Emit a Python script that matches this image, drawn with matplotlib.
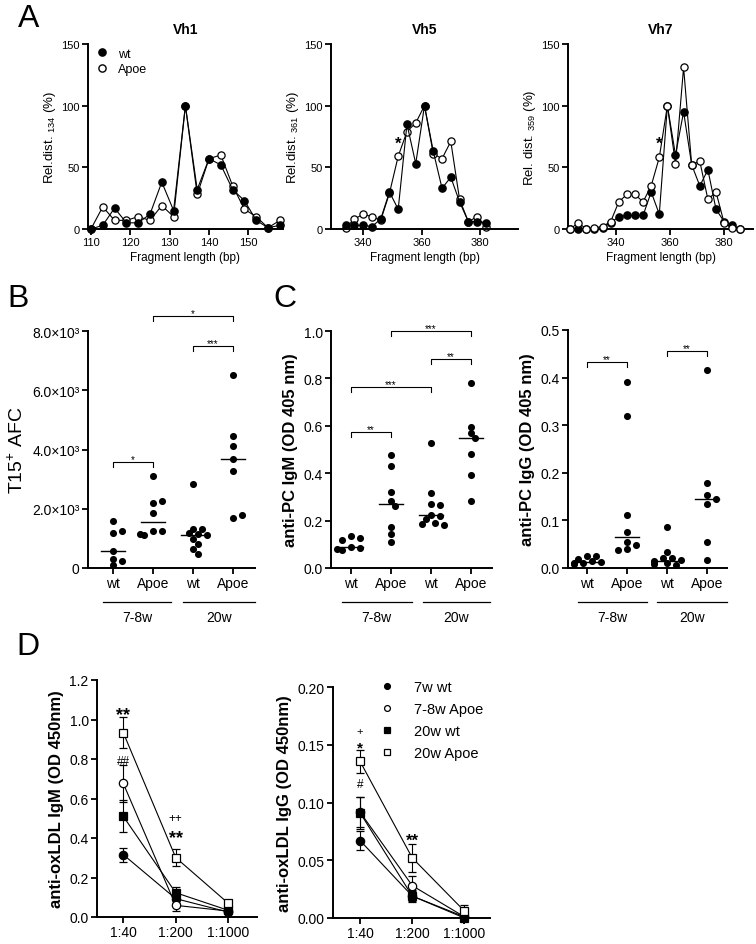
import matplotlib
matplotlib.use('Agg')
import matplotlib.pyplot as plt
from matplotlib.lines import Line2D
import numpy as np

plt.rcParams['font.family'] = ['Liberation Sans', 'DejaVu Sans']
plt.rcParams['mathtext.fontset'] = 'custom'
plt.rcParams['mathtext.rm'] = 'Liberation Sans'
plt.rcParams['mathtext.it'] = 'Liberation Sans:italic'
plt.rcParams['mathtext.bf'] = 'Liberation Sans:bold'

# ---- panel A: spectratype distributions (fragment length, % of reference peak)
vh1_len = [110, 113, 116, 119, 122, 125, 128, 131, 134, 137, 140, 143, 146, 149, 152, 155, 158]
vh1_wt = [0, 3, 17, 5, 5, 12, 38, 15, 100, 32, 57, 52, 32, 23, 7, 1, 3]
vh1_apoe = [0, 18, 7, 7, 10, 7, 19, 10, 100, 28, 57, 60, 35, 16, 10, 1, 7]

vh5_len = [334, 337, 340, 343, 346, 349, 352, 355, 358, 361, 364, 367, 370, 373, 376, 379, 382]
vh5_wt = [3, 3, 3, 2, 8, 30, 16, 85, 53, 100, 63, 33, 42, 22, 6, 6, 5]
vh5_apoe = [1, 8, 12, 10, 7, 29, 59, 79, 86, 100, 61, 57, 71, 24, 6, 10, 2]

vh7_len = [323, 326, 329, 332, 335, 338, 341, 344, 347, 350, 353, 356, 359, 362, 365, 368,
           371, 374, 377, 380, 383, 386]
vh7_wt = [0, 0, 0, 0, 1, 5, 10, 11, 11, 11, 30, 12, 100, 60, 95, 52, 35, 48, 16, 6, 3, 0]
vh7_apoe = [0, 5, 0, 1, 2, 6, 22, 28, 28, 22, 35, 58, 100, 53, 131, 52, 55, 24, 30, 5, 1, 0]

# ---- panel B: T15+ AFC
b_wt7 = [1580, 1190, 1250, 560, 310, 220, 90]
b_apoe7 = [3090, 2210, 2260, 1870, 1250, 1250, 1130, 1160]
b_wt20 = [2830, 1330, 1300, 1190, 1140, 1100, 970, 820, 650, 470]
b_apoe20 = [6530, 4450, 4120, 3670, 3290, 1690, 1780]

# ---- panel C: anti-PC IgM / IgG
igm_wt7 = [0.135, 0.125, 0.12, 0.09, 0.085, 0.075, 0.08]
igm_apoe7 = [0.477, 0.432, 0.321, 0.281, 0.262, 0.175, 0.145, 0.111]
igm_wt20 = [0.526, 0.317, 0.27, 0.265, 0.225, 0.22, 0.205, 0.19, 0.185, 0.18]
igm_apoe20 = [0.782, 0.597, 0.571, 0.549, 0.479, 0.393, 0.284]

igg_wt7 = [0.026, 0.025, 0.019, 0.015, 0.012, 0.011, 0.01, 0.008]
igg_apoe7 = [0.39, 0.32, 0.111, 0.076, 0.055, 0.049, 0.04, 0.038]
igg_wt20 = [0.086, 0.034, 0.022, 0.02, 0.016, 0.014, 0.012, 0.01, 0.008, 0.006]
igg_apoe20 = [0.415, 0.178, 0.153, 0.146, 0.134, 0.055, 0.017]

groups = ['wt', 'Apoe', 'wt', 'Apoe']

# ---- panel D: anti-oxLDL titration (mean, sem)
dilutions = ['1:40', '1:200', '1:1000']
d_names = ['7w wt', '7-8w Apoe', '20w wt', '20w Apoe']
oxm_mean = [[0.316, 0.093, 0.025], [0.677, 0.059, 0.03], [0.51, 0.123, 0.034], [0.934, 0.301, 0.07]]
oxm_sem = [[0.035, 0.02, 0.005], [0.094, 0.03, 0.006], [0.08, 0.03, 0.008], [0.08, 0.045, 0.01]]
oxg_mean = [[0.067, 0.019, 0.001], [0.0916, 0.028, 0.001], [0.091, 0.019, 0.0], [0.1355, 0.052, 0.006]]
oxg_sem = [[0.008, 0.004, 0.001], [0.013, 0.008, 0.002], [0.014, 0.005, 0.001], [0.01, 0.012, 0.005]]

W, H = 756, 945
fig = plt.figure(figsize=(W / 100, H / 100), dpi=100)


def box(l, t, r, b):
    return fig.add_axes([l / W, 1 - b / H, (r - l) / W, (b - t) / H])


def style(ax, fs=10):
    for s in ['top', 'right']:
        ax.spines[s].set_visible(False)
    for s in ['left', 'bottom']:
        ax.spines[s].set_linewidth(1.4)
    ax.tick_params(direction='out', length=4, width=1.3, labelsize=fs, pad=2)


def swarm(vals, ppu, ppc=40.0, d=6.0):
    # simple greedy column scatter, points may overlap a little
    placed, xs = [], []
    for v in vals:
        y = v * ppu
        for k in [0, 1, -1, 2, -2, 3, -3]:
            x = k * d * 0.75
            if all((x - px) ** 2 + (y - py) ** 2 >= d ** 2 for px, py in placed):
                break
        placed.append((x, y))
        xs.append(x / ppc)
    return xs


def bracket(ax, x1, x2, y, txt, h, fs=7):
    ax.plot([x1, x1, x2, x2], [y - h, y, y, y - h], color='k', lw=0.8, clip_on=False)
    ax.text((x1 + x2) / 2, y, txt, ha='center', va='baseline', fontsize=fs)


def group_line(ax, spans, labels, yl=-0.143, yt=-0.205):
    tr = ax.get_xaxis_transform()
    for (a, b), lab in zip(spans, labels):
        ax.plot([a, b], [yl, yl], color='k', lw=0.9, transform=tr, clip_on=False)
        ax.text((a + b) / 2, yt, lab, ha='center', va='center', fontsize=10, transform=tr)


def dot_panel(ax, data, ppu):
    for i, vals in enumerate(data):
        off = swarm(vals, ppu)
        ax.scatter(np.array(off) + i, vals, s=26, c='k', lw=0, clip_on=False, zorder=3)
        m = np.median(vals)
        ax.plot([i - 0.3, i + 0.3], [m, m], color='k', lw=1.0, zorder=4)
    ax.set_xticks(range(4))
    ax.set_xticklabels(groups)


# ================= Panel A =================
specs = [
    ('Vh1', vh1_len, vh1_wt, vh1_apoe, (88, 45, 283, 230), (109.25, 158.8), range(110, 151, 10),
     r'Rel.dist. $_{134}$ (%)', True, None),
    ('Vh5', vh5_len, vh5_wt, vh5_apoe, (331, 45, 518, 230), (329, 393), [340, 360, 380],
     r'Rel.dist. $_{361}$ (%)', True, 352),
    ('Vh7', vh7_len, vh7_wt, vh7_apoe, (568, 45, 753, 230), (322.2, 390.7), [340, 360, 380],
     r'Rel. dist. $_{359}$ (%)', False, 356),
]
for title, xl, wt, ap, bb, xlim, xt, ylab, wt_front, star in specs:
    ax = box(*bb)
    style(ax, fs=8)
    zw, za = (3, 2) if wt_front else (2, 3)
    ax.plot(xl, ap, '-o', color='k', mfc='white', mec='k', ms=5.2, mew=0.9, lw=0.8,
            clip_on=False, zorder=za, label='Apoe')
    ax.plot(xl, wt, '-o', color='k', mfc='k', mec='k', ms=5.2, lw=0.8,
            clip_on=False, zorder=zw, label='wt')
    ax.set_xlim(*xlim)
    ax.set_ylim(0, 150)
    ax.set_yticks([0, 50, 100, 150])
    ax.set_xticks(list(xt))
    ax.set_title(title, fontsize=10, fontweight='bold', pad=8)
    ax.set_xlabel('Fragment length (bp)', fontsize=8.5, labelpad=3)
    ax.set_ylabel(ylab, fontsize=9.5, labelpad=2)
    if star:
        ax.text(star, 66, '*', fontsize=12, fontweight='bold', ha='center', va='baseline')
    if title == 'Vh1':
        hs = [Line2D([], [], ls='none', marker='o', mfc='k', mec='k', ms=5.2),
              Line2D([], [], ls='none', marker='o', mfc='white', mec='k', ms=5.2)]
        ax.legend(hs, ['wt', 'Apoe'], loc='upper left', bbox_to_anchor=(0.04, 0.98),
                  frameon=False, fontsize=9, handlelength=1.0, handletextpad=0.8,
                  labelspacing=0.3, borderaxespad=0, borderpad=0)

# ================= Panel B =================
ax = box(88, 332, 255, 569)
style(ax)
dot_panel(ax, [b_wt7, b_apoe7, b_wt20, b_apoe20], 237 / 8000)
ax.set_xlim(-0.625, 3.55)
ax.set_ylim(0, 8000)
ax.set_yticks([0, 2000, 4000, 6000, 8000])
ax.set_yticklabels(['0', '2.0×10³', '4.0×10³', '6.0×10³', '8.0×10³'])
ax.set_ylabel(r'T15$^{+}$ AFC', fontsize=14, labelpad=4)
bracket(ax, 0, 1, 3580, '*', 170)
bracket(ax, 1, 3, 8500, '*', 170)
bracket(ax, 2, 3, 7500, '***', 170)
group_line(ax, [(-0.25, 1.45), (1.75, 3.55)], ['7-8w', '20w'])

# ================= Panel C =================
ax = box(331, 332, 492, 569)
style(ax)
dot_panel(ax, [igm_wt7, igm_apoe7, igm_wt20, igm_apoe20], 237)
ax.set_xlim(-0.5, 3.53)
ax.set_ylim(0, 1.0)
ax.set_yticks(np.arange(0, 1.01, 0.2))
ax.set_yticklabels(['%.1f' % v for v in np.arange(0, 1.01, 0.2)])
ax.set_ylabel('anti-PC IgM (OD 405 nm)', fontsize=12, fontweight='bold', labelpad=4)
bracket(ax, 0, 1, 0.575, '**', 0.021)
bracket(ax, 0, 2, 0.765, '***', 0.021)
bracket(ax, 1, 3, 0.999, '***', 0.021)
bracket(ax, 2, 3, 0.883, '**', 0.021)
group_line(ax, [(-0.23, 1.52), (1.8, 3.48)], ['7-8w', '20w'])

ax = box(568, 331, 727, 569)
style(ax)
dot_panel(ax, [igg_wt7, igg_apoe7, igg_wt20, igg_apoe20], 238 / 0.5)
ax.set_xlim(-0.475, 3.5)
ax.set_ylim(0, 0.5)
ax.set_yticks(np.arange(0, 0.51, 0.1))
ax.set_yticklabels(['%.1f' % v for v in np.arange(0, 0.51, 0.1)])
ax.set_ylabel('anti-PC IgG (OD 405 nm)', fontsize=12, fontweight='bold', labelpad=4)
bracket(ax, 0, 1, 0.432, '**', 0.0105)
bracket(ax, 2, 3, 0.456, '**', 0.0105)
group_line(ax, [(-0.22, 1.5), (1.75, 3.5)], ['7-8w', '20w'])

# ================= Panel D =================
markers = [('o', 'k'), ('o', 'white'), ('s', 'k'), ('s', 'white')]


def titration(ax, means, sems):
    x = np.arange(len(dilutions))
    for (mk, fc), m, e in zip(markers, means, sems):
        ax.errorbar(x, m, yerr=e, fmt='-' + mk, color='k', mfc=fc, mec='k', ms=6 if mk == 'o' else 5.5,
                    mew=0.9, lw=0.8, elinewidth=0.8, capsize=2.6, capthick=0.8, clip_on=False)
    ax.set_xticks(x)
    ax.set_xticklabels(dilutions)


ax = box(97, 681, 257, 918)
style(ax)
titration(ax, oxm_mean, oxm_sem)
ax.set_xlim(-0.5, 2.55)
ax.set_ylim(0, 1.2)
ax.set_yticks(np.arange(0, 1.21, 0.2))
ax.set_yticklabels(['%.1f' % v for v in np.arange(0, 1.21, 0.2)])
ax.set_ylabel('anti-oxLDL IgM (OD 450nm)', fontsize=12, fontweight='bold', labelpad=4)
ax.text(0, 1.0, '**', fontsize=13, fontweight='bold', ha='center', va='baseline')
ax.text(0, 0.775, '##', fontsize=8.5, ha='center', va='baseline')
ax.text(1, 0.485, '++', fontsize=8.5, ha='center', va='baseline')
ax.text(1, 0.38, '**', fontsize=13, fontweight='bold', ha='center', va='baseline')

ax = box(333, 688, 490, 919)
style(ax)
titration(ax, oxg_mean, oxg_sem)
ax.set_xlim(-0.52, 2.49)
ax.set_ylim(0, 0.2)
ax.set_yticks(np.arange(0, 0.201, 0.05))
ax.set_yticklabels(['%.2f' % v for v in np.arange(0, 0.201, 0.05)])
ax.set_ylabel('anti-oxLDL IgG (OD 450nm)', fontsize=12, fontweight='bold', labelpad=4)
ax.text(0, 0.1595, '+', fontsize=8, ha='center', va='baseline')
ax.text(0, 0.1445, '*', fontsize=11, fontweight='bold', ha='center', va='baseline')
ax.text(0, 0.1135, '#', fontsize=8.5, ha='center', va='baseline')
ax.text(1, 0.063, '**', fontsize=12, fontweight='bold', ha='center', va='baseline')
hs = [Line2D([], [], ls='none', marker=mk, mfc=fc, mec='k', ms=4.2, mew=0.9) for mk, fc in markers]
ax.legend(hs, d_names, loc='upper left', bbox_to_anchor=(0.3, 1.03), frameon=False,
          fontsize=10.5, handlelength=1.0, handletextpad=1.3, labelspacing=0.55,
          borderaxespad=0, borderpad=0)

# panel letters
for lab, x, y in [('A', 18, 4), ('B', 7, 284), ('C', 273, 284), ('D', 16, 632)]:
    fig.text(x / W, 1 - y / H, lab, fontsize=23, ha='left', va='top')

fig.savefig('out.png', dpi=100)
